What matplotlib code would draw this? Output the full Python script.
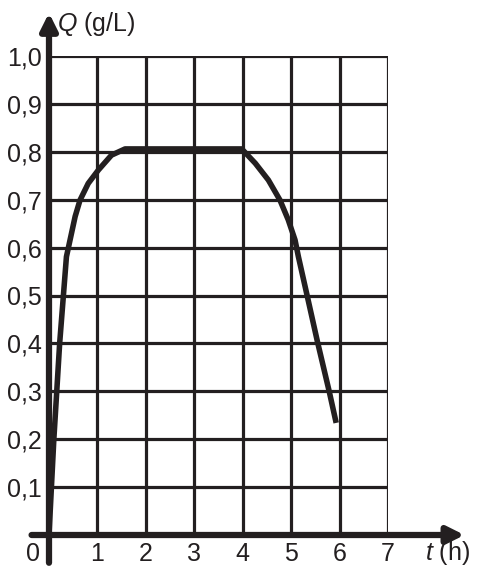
import matplotlib
matplotlib.use("Agg")
import matplotlib.pyplot as plt

# ---- data ----
t_vals = [0.0, 0.10, 0.22, 0.36, 0.45, 0.54, 0.64, 0.81, 1.02, 1.29, 1.57,
          3.98, 4.26, 4.53, 4.77, 4.94, 5.08, 5.15, 5.33, 5.54, 5.79, 5.93]
q_vals = [0.0, 0.2, 0.4, 0.581, 0.623, 0.665, 0.699, 0.734, 0.762, 0.793, 0.806,
          0.806, 0.776, 0.741, 0.699, 0.658, 0.616, 0.581, 0.5, 0.405, 0.298, 0.234]
x_ticks = [1, 2, 3, 4, 5, 6, 7]
y_ticks = [0.1, 0.2, 0.3, 0.4, 0.5, 0.6, 0.7, 0.8, 0.9, 1.0]
y_labels = ["0,1", "0,2", "0,3", "0,4", "0,5", "0,6", "0,7", "0,8", "0,9", "1,0"]

INK = "#231f20"
FS = 18
plt.rcParams['font.family'] = ['Liberation Sans', 'DejaVu Sans']
plt.rcParams['mathtext.fontset'] = 'custom'
plt.rcParams['mathtext.it'] = 'Liberation Sans:italic'
plt.rcParams['mathtext.rm'] = 'Liberation Sans'

W, H = 479, 577
fig = plt.figure(figsize=(W / 100, H / 100), dpi=100)
x0, x7 = 49, 388
y0, y1 = 535, 56
ax = fig.add_axes([x0 / W, (H - y0) / H, (x7 - x0) / W, (y0 - y1) / H])
ax.set_xlim(0, 7)
ax.set_ylim(0, 1.0)
for s in ax.spines.values():
    s.set_visible(False)

# grid
for xv in x_ticks:
    ax.plot([xv, xv], [0, 1.0], color=INK, lw=2.3, solid_capstyle='butt', zorder=1)
for yv in y_ticks:
    ax.plot([0, 7], [yv, yv], color=INK, lw=2.3, solid_capstyle='butt', zorder=1)

# ticks / labels
ax.set_xticks(x_ticks)
ax.set_xticklabels([str(v) for v in x_ticks], fontsize=FS, color=INK)
ax.set_yticks(y_ticks)
ax.set_yticklabels(y_labels, fontsize=FS, color=INK)
ax.tick_params(length=0, pad=5)
ax.text(-0.18, -0.014, "0", fontsize=FS, color=INK, ha='right', va='top')

# axes with arrows
arrow_kw = dict(arrowstyle="-|>,head_length=0.5,head_width=0.25",
                lw=4.5, color=INK, shrinkA=0, shrinkB=0, mutation_scale=20)
ax.annotate("", xy=(8.58, 0), xytext=(-0.36, 0), arrowprops=arrow_kw,
            annotation_clip=False, zorder=3)
ax.annotate("", xy=(0, 1.09), xytext=(0, -0.058), arrowprops=arrow_kw,
            annotation_clip=False, zorder=3)

ax.text(0.17, 1.053, r"$Q$ (g/L)", fontsize=FS, color=INK, ha='left', va='baseline')
ax.text(7.76, -0.052, r"$t$ (h)", fontsize=FS, color=INK, ha='left', va='baseline')

# curve
ax.plot(t_vals, q_vals, color=INK, lw=4.0, solid_joinstyle='round',
        solid_capstyle='butt', zorder=4, clip_on=False)

fig.savefig("out.png", dpi=100)
